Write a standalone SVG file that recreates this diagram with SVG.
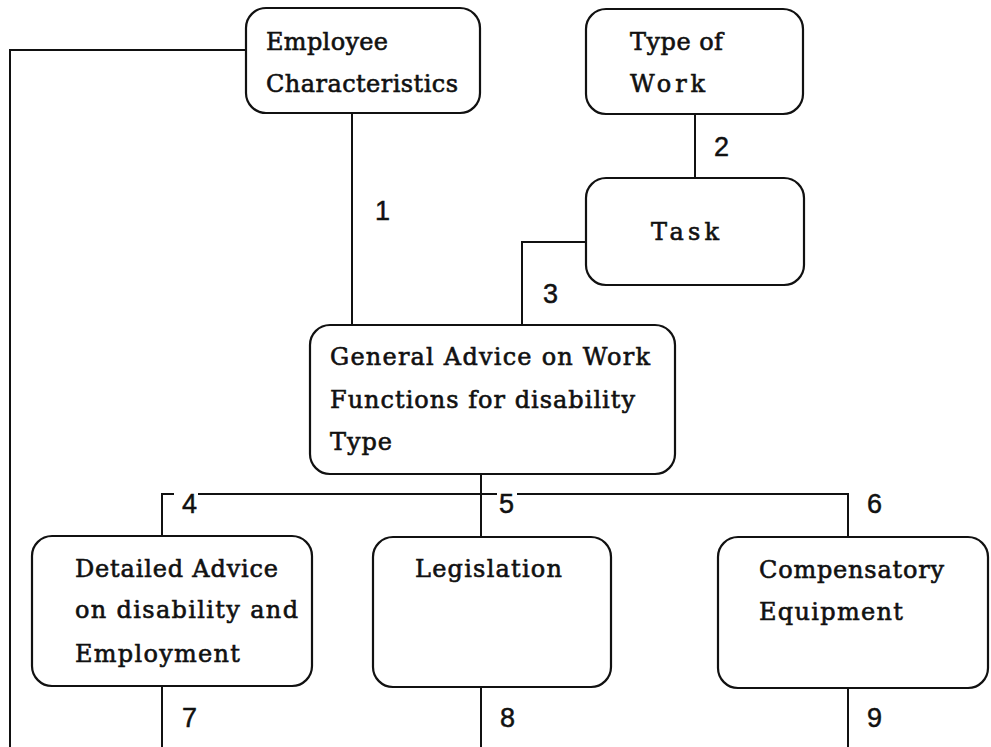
<svg xmlns="http://www.w3.org/2000/svg" width="991" height="747" viewBox="0 0 991 747">
<style>
.box{fill:#fff;stroke:#111;stroke-width:2.2}
.ln{fill:none;stroke:#111;stroke-width:2}
.t{font-family:"DejaVu Serif","Liberation Serif",serif;font-size:24px;fill:#111;stroke:#111;stroke-width:0.6}
.n{font-family:"Liberation Sans",Arial,sans-serif;font-size:27px;fill:#111;stroke:#111;stroke-width:0.5}
</style>
<rect width="991" height="747" fill="#fff"/>
<g id="connectors">
<polyline class="ln" points="246,50 10,50 10,747"/>
<line class="ln" x1="352" y1="113" x2="352" y2="325"/>
<line class="ln" x1="695" y1="114" x2="695" y2="178"/>
<polyline class="ln" points="586,242 522,242 522,325"/>
<line class="ln" x1="481" y1="474" x2="481" y2="537"/>
<polyline class="ln" points="162,536 162,494 174,494"/>
<line class="ln" x1="198" y1="494" x2="497" y2="494"/>
<polyline class="ln" points="517,494 848,494 848,537"/>
<line class="ln" x1="162" y1="686" x2="162" y2="747"/>
<line class="ln" x1="481" y1="687" x2="481" y2="747"/>
<line class="ln" x1="848" y1="688" x2="848" y2="747"/>
<text class="n" x="375" y="220" textLength="13">1</text>
<text class="n" x="714" y="156" textLength="13">2</text>
<text class="n" x="543" y="303" textLength="13">3</text>
<text class="n" x="182" y="513" textLength="12">4</text>
<text class="n" x="499" y="513" textLength="13">5</text>
<text class="n" x="867" y="513" textLength="13">6</text>
<text class="n" x="182" y="727" textLength="12">7</text>
<text class="n" x="500" y="727" textLength="13">8</text>
<text class="n" x="867" y="727" textLength="13">9</text>
</g>
<g id="employee">
<rect class="box" x="246" y="8" width="234" height="105" rx="20"/>
<text class="t" x="266" y="50" textLength="122">Employee</text>
<text class="t" x="266" y="92" textLength="192">Characteristics</text>
</g>
<g id="typeofwork">
<rect class="box" x="586" y="9" width="217" height="105" rx="20"/>
<text class="t" x="630" y="50" textLength="93">Type of</text>
<text class="t" x="630" y="92" textLength="75">Work</text>
</g>
<g id="task">
<rect class="box" x="586" y="178" width="218" height="107" rx="20"/>
<text class="t" x="651" y="240" textLength="68">Task</text>
</g>
<g id="general">
<rect class="box" x="310" y="325" width="365" height="149" rx="20"/>
<text class="t" x="330" y="365" textLength="320">General Advice on Work</text>
<text class="t" x="330" y="408" textLength="305">Functions for disability</text>
<text class="t" x="330" y="450" textLength="62">Type</text>
</g>
<g id="detailed">
<rect class="box" x="32" y="536" width="280" height="150" rx="20"/>
<text class="t" x="75" y="577" textLength="203">Detailed Advice</text>
<text class="t" x="75" y="618" textLength="223">on  disability and</text>
<text class="t" x="75" y="662" textLength="165">Employment</text>
</g>
<g id="legislation">
<rect class="box" x="373" y="537" width="238" height="150" rx="20"/>
<text class="t" x="415" y="577" textLength="147">Legislation</text>
</g>
<g id="compensatory">
<rect class="box" x="718" y="537" width="270" height="151" rx="20"/>
<text class="t" x="759" y="578" textLength="185">Compensatory</text>
<text class="t" x="759" y="620" textLength="144">Equipment</text>
</g>
</svg>
